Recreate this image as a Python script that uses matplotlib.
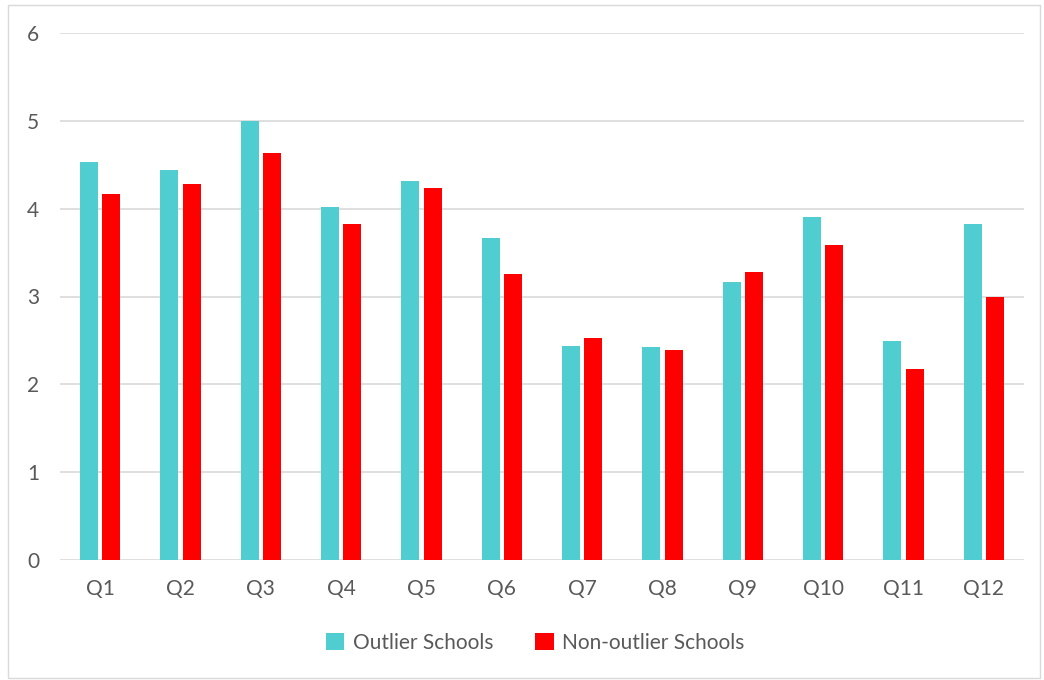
import matplotlib
matplotlib.use("Agg")
import matplotlib.pyplot as plt
import numpy as np
from matplotlib.patches import Rectangle

categories = ["Q1", "Q2", "Q3", "Q4", "Q5", "Q6", "Q7", "Q8", "Q9", "Q10", "Q11", "Q12"]
outlier = [4.53, 4.44, 5.00, 4.02, 4.31, 3.67, 2.44, 2.42, 3.16, 3.90, 2.49, 3.82]
non_outlier = [4.17, 4.28, 4.63, 3.83, 4.24, 3.26, 2.53, 2.39, 3.28, 3.59, 2.17, 3.00]
series_names = ["Outlier Schools", "Non-outlier Schools"]
yticks = [0, 1, 2, 3, 4, 5, 6]

plt.rcParams['font.family'] = ['Lato', 'DejaVu Sans']
txt = "#595959"
fs = 15

fig = plt.figure(figsize=(10.44, 6.8), dpi=100)
ax = fig.add_axes([60/1044, 1 - 560/680, (1024-60)/1044, (560-33)/680])

x = np.arange(len(categories))
w = 0.224
off = 0.137
ax.bar(x - off, outlier, width=w, color="#4FCDD0", label=series_names[0], zorder=3)
ax.bar(x + off, non_outlier, width=w, color="#FF0000", label=series_names[1], zorder=3)

ax.set_xlim(-0.5, len(categories) - 0.5)
ax.set_ylim(0, 6)
ax.set_yticks(yticks)
ax.set_yticklabels([str(t) for t in yticks])
ax.set_xticks(x)
ax.set_xticklabels(categories)
ax.grid(axis='y', color="#D9D9D9", linewidth=1.2, zorder=0)
ax.set_axisbelow(True)
for s in ax.spines.values():
    s.set_visible(False)
ax.tick_params(axis='both', length=0, labelsize=fs, colors=txt)
ax.tick_params(axis='y', pad=15)
ax.tick_params(axis='x', pad=14)

leg = fig.legend(loc='center', bbox_to_anchor=(535/1044, 1 - 643/680), ncol=2, frameon=False,
                 fontsize=fs, handlelength=0.9, handleheight=0.9, handletextpad=0.4, columnspacing=2.0)
for t in leg.get_texts():
    t.set_color(txt)

fig.patches.append(Rectangle((8/1044, 2/680), 1032/1044, 673/680, transform=fig.transFigure,
                             fill=False, edgecolor="#D9D9D9", linewidth=1))

fig.savefig("out.png", dpi=100)
